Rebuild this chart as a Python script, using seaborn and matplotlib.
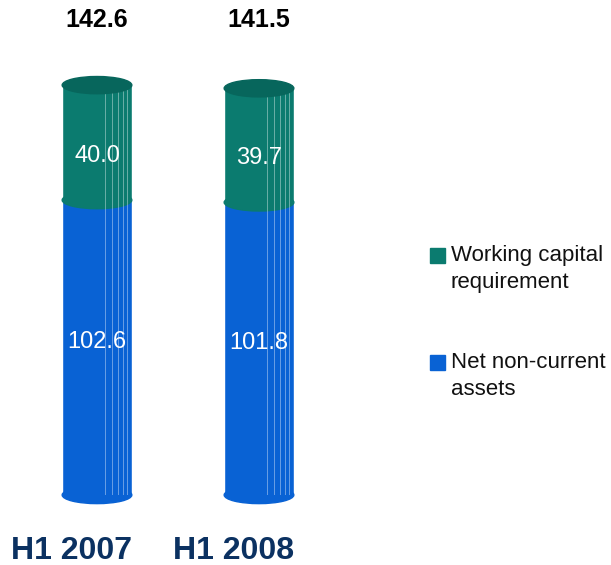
import matplotlib
matplotlib.use("Agg")
import matplotlib.pyplot as plt
from matplotlib.patches import Ellipse, Rectangle
import matplotlib.transforms as mtransforms
import pandas as pd
import seaborn as sns

periods = ["H1 2007", "H1 2008"]
net_non_current = [102.6, 101.8]
working_capital = [40.0, 39.7]
totals = [142.6, 141.5]
series_names = ["Working capital\nrequirement", "Net non-current\nassets"]

green = "#0b7b6f"
green_dark = "#07665c"
blue = "#0962d4"

sns.set_theme(style="white")
plt.rcParams["font.family"] = ["Liberation Sans", "DejaVu Sans"]

df = pd.DataFrame({"period": periods, "nca": net_non_current,
                   "wcr": working_capital, "total": totals})

W, H = 611, 565
fig = plt.figure(figsize=(W / 100, H / 100), dpi=100)
ax = fig.add_axes([16 / W, 70 / H, 324 / W, 455 / H])

# totals first (green), then the bottom segment over it (blue)
sns.barplot(data=df, x="period", y="total", color=green, width=0.43,
            saturation=1, ax=ax)
sns.barplot(data=df, x="period", y="nca", color=blue, width=0.43,
            saturation=1, ax=ax)
ax.set_xlim(-0.5, 1.5)
ax.set_ylim(0, 158.3)
ax.axis("off")

trans = mtransforms.blended_transform_factory(ax.transData, fig.transFigure)
bars = ax.patches
eh = 6.0
for i in range(len(periods)):
    top = bars[i]
    bot = bars[i + len(periods)]
    x0, w = top.get_x(), top.get_width()
    cx = x0 + w / 2
    # cylinder shading lines
    for f in [0.62, 0.72, 0.8, 0.87, 0.93]:
        ax.plot([x0 + w * f] * 2, [0, top.get_height()], color="white",
                lw=0.6, alpha=0.45, zorder=3)
    ax.add_patch(Ellipse((cx, 0), w, eh, color=blue, zorder=2, clip_on=False))
    ax.add_patch(Ellipse((cx, bot.get_height()), w, eh, color=green, zorder=2.5))
    ax.add_patch(Ellipse((cx, top.get_height()), w, eh, color=green_dark, zorder=4))
    ax.text(cx, 1 - 20 / H, f"{df['total'][i]:.1f}", transform=trans,
            ha="center", va="center", fontsize=18, fontweight="bold",
            color="black")
    ax.text(cx, df["nca"][i] + df["wcr"][i] / 2 - 4.5, f"{df['wcr'][i]:.1f}",
            ha="center", va="center", fontsize=17, color="white", zorder=5)
    ax.text(cx, df["nca"][i] / 2 + 2, f"{df['nca'][i]:.1f}", ha="center",
            va="center", fontsize=17, color="white", zorder=5)
    ax.text(cx - 0.16, 1 - 551 / H, periods[i], transform=trans, ha="center",
            va="center", fontsize=23, fontweight="bold", color="#0b3161")

# legend, swatch aligned with the first text line
for name, col, ytop in zip(series_names, [green, blue], [248, 355]):
    fig.add_artist(Rectangle((430 / W, 1 - (ytop + 15) / H), 15 / W, 15 / H,
                             color=col, transform=fig.transFigure))
    fig.text(451 / W, 1 - (ytop - 3) / H, name, ha="left", va="top",
             fontsize=16, color="#111111", linespacing=1.4)

fig.savefig("out.png", dpi=100)
